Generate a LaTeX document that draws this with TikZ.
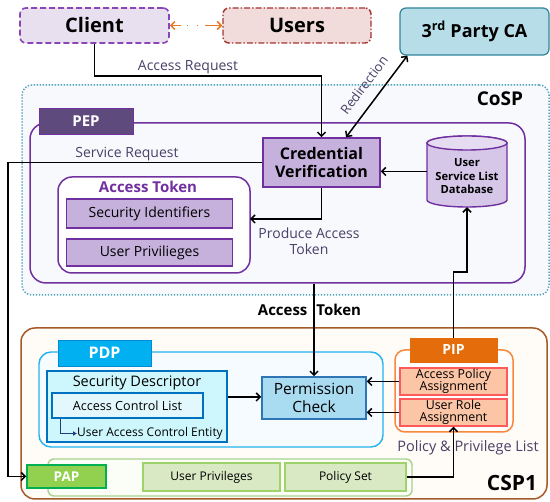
\documentclass[tikz,border=0pt]{standalone}
\usepackage{fontspec}
\setmainfont{Open Sans}
\usetikzlibrary{arrows.meta}

\definecolor{clientfill}{HTML}{E8E0EF}
\definecolor{clientline}{HTML}{8A45B8}
\definecolor{usersfill}{HTML}{F2DCDB}
\definecolor{usersline}{HTML}{A3352F}
\definecolor{cafill}{HTML}{B7DEE8}
\definecolor{caline}{HTML}{31849B}
\definecolor{cospline}{HTML}{4BA3BE}
\definecolor{cospfill}{HTML}{F8F9FC}
\definecolor{purpline}{HTML}{7030A0}
\definecolor{peptab}{HTML}{5F4A7E}
\definecolor{lilac}{HTML}{C6B1DC}
\definecolor{dbfill}{HTML}{D6C7E8}
\definecolor{dbtop}{HTML}{E6DCF1}
\definecolor{lblcol}{HTML}{4A4068}
\definecolor{cspline}{HTML}{A65A28}
\definecolor{cspfill}{HTML}{FFFBF7}
\definecolor{pdpline}{HTML}{22B2EE}
\definecolor{pdpfill}{HTML}{F5FBFE}
\definecolor{pdptab}{HTML}{00B0F0}
\definecolor{sdfill}{HTML}{CDF7FC}
\definecolor{acfill}{HTML}{E2F8FC}
\definecolor{deepblue}{HTML}{0070C0}
\definecolor{pcfill}{HTML}{A9DBF1}
\definecolor{pcline}{HTML}{2E75B6}
\definecolor{entcol}{HTML}{1F3D7A}
\definecolor{pipline}{HTML}{F7883B}
\definecolor{piptab}{HTML}{E46C0A}
\definecolor{apafill}{HTML}{FBC5A6}
\definecolor{apaline}{HTML}{FF5A5A}
\definecolor{papline}{HTML}{A9D18E}
\definecolor{papfill}{HTML}{FBFDF7}
\definecolor{paptab}{HTML}{92D050}
\definecolor{paptabline}{HTML}{00B050}
\definecolor{gfill}{HTML}{D8E9C4}
\definecolor{gline}{HTML}{9ED36A}
\definecolor{linkorange}{HTML}{E87722}

\newcommand\fsz[2]{\fontsize{#1}{#2}\selectfont}

\begin{document}
\begin{tikzpicture}[x=1pt,y=-1pt,
  box/.style={draw, rectangle, inner sep=0pt, align=center},
  tab/.style={box, text=white, font=\bfseries\fsz{15}{18}},
  lbl/.style={inner sep=0pt, align=center, text=lblcol, font=\fsz{14}{16}},
  arr/.style={draw=black, line width=1.5pt, -{Straight Barb[length=4pt,width=8pt,line width=1.5pt]}},
  biarr/.style={draw=black, line width=1.5pt, {Straight Barb[length=4pt,width=8pt,line width=1.5pt]}-{Straight Barb[length=4pt,width=8pt,line width=1.5pt]}},
  lilacbox/.style={box, fill=lilac, draw=purpline, line width=1.5pt},
  greenbox/.style={box, fill=gfill, draw=gline, line width=1.5pt, font=\fsz{12}{14}},
  pinkbox/.style={box, fill=apafill, draw=apaline, line width=1.5pt, font=\fsz{12.4}{12.5}}
]
\useasboundingbox (0,0) rectangle (550,502);
\fill[white] (0,0) rectangle (550,502);

% ---------- top row ----------
\node[box, fill=clientfill, draw=clientline, line width=1.6pt, dash pattern=on 6pt off 3pt,
  rounded corners=6pt, minimum width=149, minimum height=35,
  font=\bfseries\fsz{20}{24}] (client) at (94.5,25.5) {Client};
\node[box, fill=usersfill, draw=usersline, line width=1.4pt, dash pattern=on 6pt off 2pt on 1.5pt off 2pt,
  rounded corners=6pt, minimum width=148, minimum height=35,
  font=\bfseries\fsz{20}{24}] (users) at (297,25.5) {Users};
\node[box, fill=cafill, draw=caline, line width=1.2pt, rounded corners=6pt,
  minimum width=149, minimum height=47, font=\bfseries\fsz{18}{22}] (ca) at (474.5,31.5)
  {3\textsuperscript{rd} Party CA};
\draw[draw=linkorange, line width=1.5pt, dash pattern=on 9pt off 6pt on 1.5pt off 8.5pt on 1.5pt off 7pt on 30pt,
  {Straight Barb[length=4pt,width=8pt,line width=1.5pt]}-{Straight Barb[length=4pt,width=8pt,line width=1.5pt]}]
  (client) -- (users);

% ---------- CoSP ----------
\node[box, draw=cospline, fill=cospfill, line width=1.5pt, dash pattern=on 1.3pt off 1.7pt,
  rounded corners=10pt, minimum width=527, minimum height=210] (cosp) at (285.5,190) {};
\node[inner sep=0pt, font=\bfseries\fsz{19}{22}] (cosplabel) at (500,99) {CoSP};

% PEP
\node[box, draw=purpline, line width=1.5pt, rounded corners=16pt,
  minimum width=495, minimum height=160] (pep) at (277.5,203) {};
\node[tab, fill=peptab, draw=purpline, line width=0.8pt, minimum width=94, minimum height=26] (peptab) at (86,121) {PEP};

\node[lilacbox, minimum width=117, minimum height=49, font=\bfseries\fsz{16}{18}] (cv) at (321.5,162.5)
  {Credential\\Verification};

% database cylinder
\path[fill=dbfill, draw=purpline, line width=1.4pt]
  (427,143) -- (427,200) arc[start angle=180, end angle=360, x radius=40pt, y radius=7pt]
  -- (507,143) arc[start angle=0, end angle=180, x radius=40pt, y radius=7pt] -- cycle;
\draw[fill=dbtop, draw=purpline, line width=1.4pt] (467,143) ellipse[x radius=40pt, y radius=7pt];
\node[inner sep=0pt, minimum width=80, minimum height=71] (db) at (467,171.5) {};
\node[inner sep=0pt, align=center, font=\bfseries\fsz{11.2}{13.5}] (dbtext) at (467,176.5)
  {User\\Service List\\Database};

% access token
\node[box, draw=purpline, fill=white, line width=1.5pt, rounded corners=14pt,
  minimum width=192, minimum height=96] (at) at (154,225) {};
\node[inner sep=0pt, text=purpline, font=\bfseries\fsz{15}{18}] (attitle) at (148,187) {Access Token};
\node[lilacbox, minimum width=166, minimum height=29, font=\fsz{14}{16}] (si) at (149.5,213.5) {Security Identifiers};
\node[lilacbox, minimum width=166, minimum height=27, font=\fsz{14}{16}] (up) at (149.5,252.5) {User Privilieges};

% ---------- CSP1 ----------
\node[box, draw=cspline, fill=cspfill, line width=1.5pt, rounded corners=14pt,
  minimum width=526, minimum height=171] (csp) at (284,413.5) {};
\node[inner sep=0pt, font=\bfseries\fsz{21}{24}] (csplabel) at (512,483) {CSP1};

% PDP
\node[box, draw=pdpline, fill=pdpfill, line width=1.4pt, rounded corners=12pt,
  minimum width=344, minimum height=95] (pdp) at (211,399.5) {};
\node[tab, fill=pdptab, draw=deepblue!60!pdptab, line width=0.8pt, minimum width=93, minimum height=26,
  font=\bfseries\fsz{16}{18}] (pdptab) at (104.5,353) {PDP};
\node[box, fill=sdfill, draw=deepblue, line width=1.5pt, minimum width=180, minimum height=71] (sd) at (137,406.5) {};
\node[inner sep=0pt, font=\fsz{14.5}{16}] (sdtitle) at (137,383) {Security Descriptor};
\node[box, fill=acfill, draw=deepblue, line width=1.5pt, minimum width=151, minimum height=25,
  font=\fsz{12.6}{14}] (acl) at (127.5,405.5) {Access Control List};
\node[inner sep=0pt, anchor=west, font=\fsz{12}{14}] (uace) at (77,433.5) {User Access Control Entity};
\node[box, fill=pcfill, draw=pcline, line width=1.5pt, minimum width=104, minimum height=42,
  font=\fsz{15.5}{18}] (pc) at (314,398) {Permission\\Check};

% PIP
\node[box, draw=pipline, fill=white, line width=1.5pt, rounded corners=10pt,
  minimum width=118, minimum height=82] (pip) at (454,391) {};
\node[tab, fill=piptab, draw=piptab, minimum width=87, minimum height=24, font=\bfseries\fsz{14}{16}] (piptab) at (453.5,350) {PIP};
\node[pinkbox, minimum width=107, minimum height=27] (apa) at (453.5,381.5) {Access Policy\\Assignment};
\node[pinkbox, minimum width=107, minimum height=27] (ura) at (453.5,412.5) {User Role\\Assignment};

% PAP
\node[box, draw=papline, fill=papfill, line width=1.4pt, rounded corners=6pt,
  minimum width=364, minimum height=37] (paprow) at (230,477.5) {};
\node[tab, fill=paptab, draw=paptabline, line width=1.5pt, minimum width=79, minimum height=23,
  font=\bfseries\fsz{13.5}{16}] (pap) at (66.5,476.5) {PAP};
\node[greenbox, minimum width=137, minimum height=28] (upr) at (211.5,477) {User Privileges};
\node[greenbox, minimum width=121, minimum height=28] (ps) at (345.5,477) {Policy Set};

% ---------- connectors ----------
\coordinate (arbend) at (94.5,76);
\draw[arr] (client.south) -- (arbend) -| (cv.north);
\node[lbl] (arlabel) at (188,67) {Access Request};

\draw[biarr] ([xshift=24.5pt]cv.north) -- ([xshift=8pt]ca.south west);
\node[lbl, rotate=53, font=\fsz{13}{15}] (redir) at (364,85) {Redirection};

\coordinate (srcorner) at (8,300);
\draw[arr] (cv.west) -| (srcorner) |- (pap.west);
\node[lbl] (srlabel) at (127,154) {Service Request};

\draw[arr] (db.west) -- (db.west -| cv.east);

\coordinate (ptk) at (250,219);
\draw[arr] (cv.south) |- (ptk);
\node[lbl] (ptlabel) at (309,241) {Produce Access\\Token};

\draw[arr] (pep.south -| pc.north) -- (pc.north);
\node[inner sep=0pt, font=\bfseries\fsz{15}{18}] (atlabel) at (309.5,310) {Access\hspace{9pt}Token};

\coordinate (dbbend) at (453.5,272);
\draw[arr] (piptab.north) -- (dbbend) -| (db.south);

\draw[arr] ([yshift=9.5pt]sd.east) -- ([yshift=9.5pt]sd.east -| pc.west);
\draw[arr] (apa.west) -- (apa.west -| pc.east);
\draw[arr] (ura.west) -- (ura.west -| pc.east);

\draw[draw=entcol, line width=1.2pt, -{Latex[length=4pt,width=5pt]}] ([xshift=9pt]acl.south west) |- (uace.west);

\draw[arr] (ps.east) -| (ura.south);
\node[lbl, font=\fsz{14.5}{16}] (pplabel) at (468,448) {Policy \& Privilege List};
\end{tikzpicture}
\end{document}
